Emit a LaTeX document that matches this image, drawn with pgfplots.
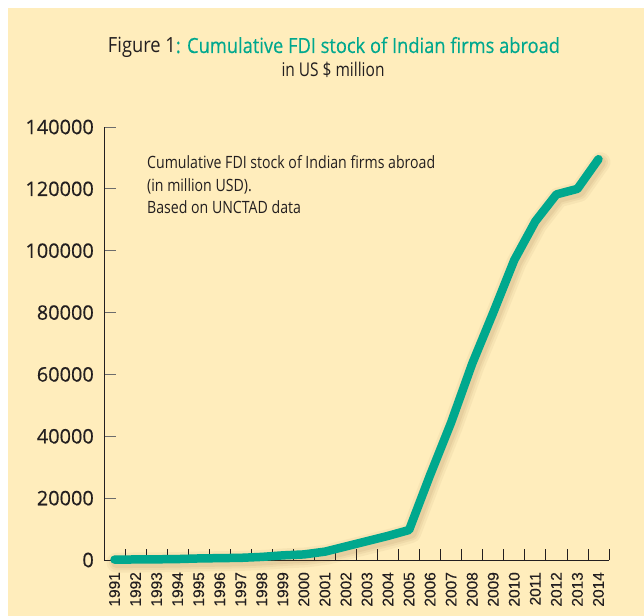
\documentclass[border=0pt]{standalone}
\usepackage{graphicx}
\usepackage{pgfplots}
\usepackage{pgfplotstable}
\pgfplotsset{compat=1.18}
\usepackage{fontspec}
\setmainfont{Open Sans}
\newfontfamily\arialf{Liberation Sans}[FakeBold=0.3]
\newfontfamily\boldish{Open Sans}[FakeBold=0.4]
\definecolor{cream}{HTML}{FFEDBC}
\definecolor{fditeal}{HTML}{00A88E}
\definecolor{txt}{HTML}{231F20}

\pgfplotstableread{
year value
1991 130
1992 170
1993 220
1994 300
1995 500
1996 600
1997 700
1998 1000
1999 1500
2000 1800
2001 2700
2002 4400
2003 6100
2004 7800
2005 9700
2006 27500
2007 44500
2008 63500
2009 80000
2010 97000
2011 109500
2012 118200
2013 120000
2014 129600
}\fdidata

\begin{document}
\begin{tikzpicture}
\path[use as bounding box] (0bp,0bp) rectangle (644bp,616bp);
\fill[white] (0bp,0bp) rectangle (644bp,616bp);
\fill[cream] (8bp,0bp) rectangle (644bp,608bp);

\node[anchor=base, text=txt, inner sep=0pt] at (334bp,563bp)
  {\resizebox{452bp}{\height}{\fontsize{21}{25}\selectfont Figure 1\textcolor{fditeal}{\boldish : Cumulative FDI stock of Indian firms abroad}}};
\node[anchor=base, text=txt, inner sep=0pt] at (333bp,539bp)
  {\resizebox{103bp}{\height}{\fontsize{19}{23}\selectfont in US \$ million}};

\node[anchor=base west, text=txt, inner sep=0pt] at (147bp,447bp)
  {\resizebox{288bp}{\height}{\fontsize{17}{22.5}\selectfont\begin{tabular}[t]{@{}l@{}}Cumulative FDI stock of Indian firms abroad\\(in million USD).\\Based on UNCTAD data\end{tabular}}};

\begin{axis}[
  at={(104bp,56bp)}, anchor=south west,
  scale only axis, width=505bp, height=433bp,
  xmin=1990.5, xmax=2014.5, ymin=0, ymax=140000,
  axis lines=left,
  axis line style={-, draw=txt, line width=0.8bp},
  clip=false,
  xtick={1991,...,2014},
  minor xtick={1991.5,1992.5,...,2014.5},
  ytick={0,20000,...,140000},
  tick align=inside,
  major tick length=12bp, minor tick length=11bp,
  major x tick style={draw=none},
  minor x tick style={draw=txt, line width=0.8bp},
  major y tick style={draw=gray!85!black, line width=0.8bp},
  scaled y ticks=false,
  scaled x ticks=false,
  /pgf/number format/fixed,
  /pgf/number format/precision=0,
  /pgf/number format/1000 sep={},
  /pgf/number format/assume math mode=true,
  yticklabel={\boldish\fontsize{20}{24}\selectfont\pgfmathprintnumber{\tick}},
  yticklabel style={text=txt, inner sep=0pt, anchor=east},
  yticklabel shift=10bp,
  xticklabel={\arialf\fontsize{15.5}{18}\selectfont\pgfmathprintnumber{\tick}},
  xticklabel style={rotate=90, anchor=east, text=txt, inner sep=0pt},
  xticklabel shift=12bp,
]
\addplot[draw=brown!70!black, opacity=0.06, line width=20bp, line join=round, line cap=round,
  transform canvas={xshift=2bp,yshift=-3bp}] table[x=year,y=value] {\fdidata};
\addplot[draw=brown!70!black, opacity=0.07, line width=15bp, line join=round, line cap=round,
  transform canvas={xshift=2bp,yshift=-3bp}] table[x=year,y=value] {\fdidata};
\addplot[draw=brown!70!black, opacity=0.08, line width=11bp, line join=round, line cap=round,
  transform canvas={xshift=2bp,yshift=-3bp}] table[x=year,y=value] {\fdidata};
\addplot[draw=fditeal, line width=8.5bp, line join=round, line cap=round] table[x=year,y=value] {\fdidata};
\end{axis}
\end{tikzpicture}
\end{document}
